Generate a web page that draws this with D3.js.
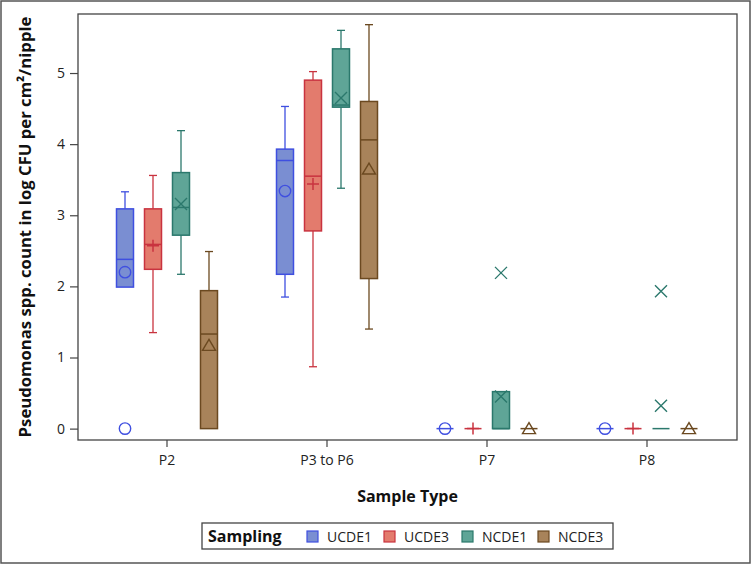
<!DOCTYPE html>
<html><head><meta charset="utf-8">
<script src="https://cdn.jsdelivr.net/npm/d3@7"></script>
<style>body{margin:0;background:#fff}svg{display:block}</style>
</head><body>
<script>
const categories = ["P2", "P3 to P6", "P7", "P8"];
const groups = ["UCDE1", "UCDE3", "NCDE1", "NCDE3"];
const yTicks = [0, 1, 2, 3, 4, 5];

// per group, values per category
const whiskerLow = {
  UCDE1: [1.99, 1.85, 0, 0],
  UCDE3: [1.35, 0.87, 0, 0],
  NCDE1: [2.17, 3.38, 0, 0],
  NCDE3: [0, 1.40, 0, 0]
};
const q1 = {
  UCDE1: [1.99, 2.17, 0, 0],
  UCDE3: [2.24, 2.78, 0, 0],
  NCDE1: [2.72, 4.52, 0, 0],
  NCDE3: [0, 2.11, 0, 0]
};
const median = {
  UCDE1: [2.38, 3.77, 0, 0],
  UCDE3: [2.59, 3.55, 0, 0],
  NCDE1: [3.11, 4.55, 0, 0],
  NCDE3: [1.33, 4.06, 0, 0]
};
const q3 = {
  UCDE1: [3.09, 3.93, 0, 0],
  UCDE3: [3.09, 4.90, 0, 0],
  NCDE1: [3.60, 5.34, 0.52, 0],
  NCDE3: [1.94, 4.60, 0, 0]
};
const whiskerHigh = {
  UCDE1: [3.33, 4.53, 0, 0],
  UCDE3: [3.56, 5.02, 0, 0],
  NCDE1: [4.19, 5.60, 0.52, 0],
  NCDE3: [2.49, 5.68, 0, 0]
};
const means = {
  UCDE1: [2.20, 3.34, 0, 0],
  UCDE3: [2.57, 3.44, 0, 0],
  NCDE1: [3.16, 4.65, 0.45, 0.32],
  NCDE3: [1.17, 3.65, 0, 0]
};
const outliers = {
  UCDE1: [[0], [], [], []],
  UCDE3: [[], [], [], []],
  NCDE1: [[], [], [2.19], [1.93]],
  NCDE3: [[], [], [], []]
};

const fills = {UCDE1: "#7a8ed2", UCDE3: "#e37b6d", NCDE1: "#5fa597", NCDE3: "#a8835a"};
const strokes = {UCDE1: "#3f4fe0", UCDE3: "#c9333f", NCDE1: "#2b786c", NCDE3: "#6b4920"};
const symbols = {UCDE1: "circle", UCDE3: "plus", NCDE1: "x", NCDE3: "triangle"};

const W = 751, H = 564;
const L = 78, R = 737, T = 14, B = 440;
const svg = d3.select("body").append("svg").attr("width", W).attr("height", H);
const font = "'Open Sans', Lato, sans-serif";

// outer border
svg.append("rect").attr("x", 1).attr("y", 1).attr("width", W - 2).attr("height", H - 2)
  .attr("fill", "#fff").attr("stroke", "#555").attr("stroke-width", 1.5);

const x = d3.scaleBand().domain(categories).range([87, 727]);
const xg = d3.scaleBand().domain(groups).range([-56, 56]);
const y = d3.scaleLinear().domain([-0.16, 5.83]).range([B, T]);
const bw = 17, cap = 8;

// frame
svg.append("rect").attr("x", L).attr("y", T).attr("width", R - L).attr("height", B - T)
  .attr("fill", "none").attr("stroke", "#444").attr("stroke-width", 1.3);

// axes
const ya = svg.append("g").attr("transform", `translate(${L},0)`)
  .call(d3.axisLeft(y).tickValues(yTicks).tickSize(8).tickPadding(5).tickFormat(d3.format("d")));
const xa = svg.append("g").attr("transform", `translate(0,${B})`)
  .call(d3.axisBottom(x).tickSize(7).tickPadding(8));
[ya, xa].forEach(a => {
  a.select(".domain").remove();
  a.selectAll(".tick line").attr("stroke", "#444").attr("stroke-width", 1.2);
  a.selectAll(".tick text").attr("font-family", font).attr("font-size", 14).attr("fill", "#222");
});

function drawSymbol(g, type, cx, cy, color) {
  const s = 6;
  if (type === "circle") {
    g.append("circle").attr("cx", cx).attr("cy", cy).attr("r", 5.7)
      .attr("fill", "none").attr("stroke", color).attr("stroke-width", 1.4);
  } else if (type === "plus") {
    g.append("path").attr("d", `M${cx - s},${cy}H${cx + s}M${cx},${cy - s}V${cy + s}`)
      .attr("stroke", color).attr("stroke-width", 1.5).attr("fill", "none");
  } else if (type === "x") {
    g.append("path").attr("d", `M${cx - s},${cy - s}L${cx + s},${cy + s}M${cx - s},${cy + s}L${cx + s},${cy - s}`)
      .attr("stroke", color).attr("stroke-width", 1.4).attr("fill", "none");
  } else if (type === "triangle") {
    g.append("path").attr("d", `M${cx},${cy - 6}L${cx + 6.5},${cy + 5}L${cx - 6.5},${cy + 5}Z`)
      .attr("stroke", color).attr("stroke-width", 1.4).attr("fill", "none");
  }
}

const plot = svg.append("g");
groups.forEach(gk => {
  categories.forEach((c, i) => {
    const cx = x(c) + x.bandwidth() / 2 + xg(gk) + xg.bandwidth() / 2;
    const g = plot.append("g");
    const col = strokes[gk];
    // whiskers
    if (whiskerHigh[gk][i] > q3[gk][i]) {
      g.append("line").attr("x1", cx).attr("x2", cx).attr("y1", y(q3[gk][i])).attr("y2", y(whiskerHigh[gk][i]))
        .attr("stroke", col).attr("stroke-width", 1.3);
      g.append("line").attr("x1", cx - cap / 2).attr("x2", cx + cap / 2)
        .attr("y1", y(whiskerHigh[gk][i])).attr("y2", y(whiskerHigh[gk][i]))
        .attr("stroke", col).attr("stroke-width", 1.3);
    }
    if (whiskerLow[gk][i] < q1[gk][i]) {
      g.append("line").attr("x1", cx).attr("x2", cx).attr("y1", y(q1[gk][i])).attr("y2", y(whiskerLow[gk][i]))
        .attr("stroke", col).attr("stroke-width", 1.3);
      g.append("line").attr("x1", cx - cap / 2).attr("x2", cx + cap / 2)
        .attr("y1", y(whiskerLow[gk][i])).attr("y2", y(whiskerLow[gk][i]))
        .attr("stroke", col).attr("stroke-width", 1.3);
    }
    // box
    if (q3[gk][i] > q1[gk][i]) {
      g.append("rect").attr("x", cx - bw / 2).attr("width", bw)
        .attr("y", y(q3[gk][i])).attr("height", y(q1[gk][i]) - y(q3[gk][i]))
        .attr("fill", fills[gk]).attr("stroke", col).attr("stroke-width", 1.5);
    }
    // median
    g.append("line").attr("x1", cx - bw / 2).attr("x2", cx + bw / 2)
      .attr("y1", y(median[gk][i])).attr("y2", y(median[gk][i]))
      .attr("stroke", col).attr("stroke-width", 1.5);
    // mean
    drawSymbol(g, symbols[gk], cx, y(means[gk][i]), col);
    // outliers
    outliers[gk][i].forEach(v => drawSymbol(g, symbols[gk], cx, y(v), col));
  });
});

// axis titles
svg.append("text").attr("x", (L + R) / 2).attr("y", 502).attr("text-anchor", "middle")
  .attr("font-family", font).attr("font-weight", "bold").attr("font-size", 16).attr("fill", "#111")
  .text("Sample Type");
svg.append("text").attr("transform", `translate(31,227) rotate(-90)`).attr("text-anchor", "middle")
  .attr("font-family", font).attr("font-weight", "bold").attr("font-size", 16.7).attr("fill", "#111")
  .text("Pseudomonas spp. count in log CFU per cm²/nipple");

// legend
const lg = svg.append("g");
lg.append("rect").attr("x", 202).attr("y", 523).attr("width", 411).attr("height", 26)
  .attr("fill", "#fff").attr("stroke", "#444").attr("stroke-width", 1.3);
lg.append("text").attr("x", 208).attr("y", 542).attr("font-family", font).attr("font-weight", "bold")
  .attr("font-size", 16).attr("fill", "#111").text("Sampling");
const legendX = [307, 384, 462, 538];
groups.forEach((gk, i) => {
  lg.append("rect").attr("x", legendX[i]).attr("y", 531).attr("width", 11).attr("height", 11)
    .attr("fill", fills[gk]).attr("stroke", strokes[gk]).attr("stroke-width", 1.2);
  lg.append("text").attr("x", legendX[i] + 20).attr("y", 541.5).attr("font-family", font)
    .attr("font-size", 14).attr("fill", "#222").text(gk);
});
</script>
</body></html>
